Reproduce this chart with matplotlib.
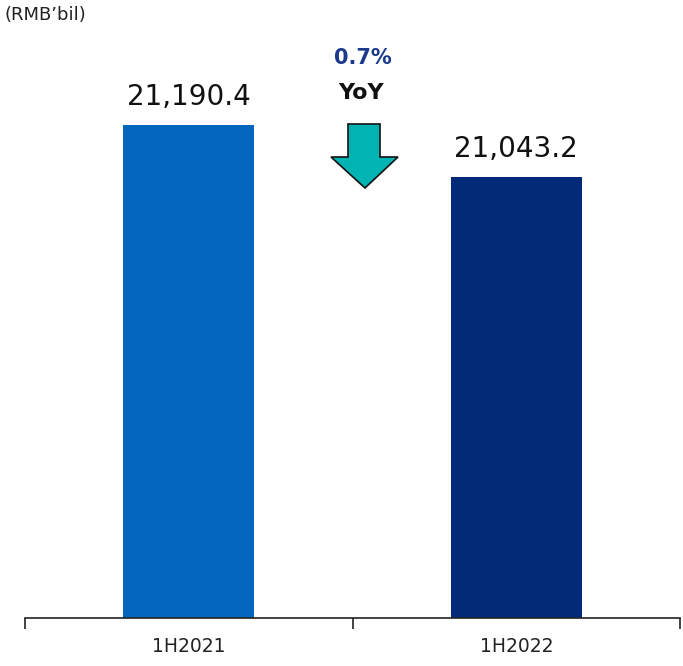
import matplotlib
matplotlib.use("Agg")
import matplotlib.pyplot as plt
from matplotlib.patches import Polygon

categories = ["1H2021", "1H2022"]
values = [21190.4, 21043.2]
value_labels = ["21,190.4", "21,043.2"]
bar_colors = ["#0366BC", "#022A78"]
unit_label = "(RMB\u2019bil)"
change_text = "0.7%"
change_sub = "YoY"

W, H = 683, 666
fig = plt.figure(figsize=(W / 100, H / 100), dpi=100)
ax = fig.add_axes([25 / W, (H - 618) / H, (680 - 25) / W, (618 - 30) / H])

x = list(range(len(categories)))
ax.bar(x, values, width=0.4, color=bar_colors, zorder=2)
ax.set_xlim(-0.5, len(categories) - 0.5)
ax.set_ylim(19787, 19787 + 588 / 0.3513)

for xi, v, lab in zip(x, values, value_labels):
    ax.annotate(lab, (xi, v), xytext=(0, 10), textcoords="offset points",
                ha="center", va="bottom", fontsize=20, color="#111111")

# category boundaries as ticks, labels at bar centres
ax.set_xticks([-0.5, 0.5, 1.5])
ax.set_xticklabels([])
ax.set_xticks(x, minor=True)
ax.set_xticklabels(categories, minor=True, fontsize=13.5, color="#222222")
ax.tick_params(axis="x", which="major", direction="out", length=8, width=1.2, color="#222222")
ax.tick_params(axis="x", which="minor", length=0, pad=14)
ax.set_yticks([])
for s in ["top", "right", "left"]:
    ax.spines[s].set_visible(False)
ax.spines["bottom"].set_linewidth(1.2)
ax.spines["bottom"].set_color("#222222")

fig.text(5 / W, 1 - 15 / H, unit_label, ha="left", va="center", fontsize=13, color="#222222")
fig.text(363 / W, 1 - 58 / H, change_text, ha="center", va="center", fontsize=15,
         fontweight="bold", color="#1B3A8C")
fig.text(361 / W, 1 - 93 / H, change_sub, ha="center", va="center", fontsize=16,
         fontweight="bold", color="#111111")

# down arrow between the bars
pts = [(348, 124), (380, 124), (380, 157), (398, 157), (365, 188),
       (331, 157), (348, 157)]
arrow = Polygon([(px / W, 1 - py / H) for px, py in pts], closed=True,
                transform=fig.transFigure, facecolor="#00B4B4",
                edgecolor="#111111", linewidth=1.2)
fig.patches.append(arrow)

fig.savefig("out.png", dpi=100)
